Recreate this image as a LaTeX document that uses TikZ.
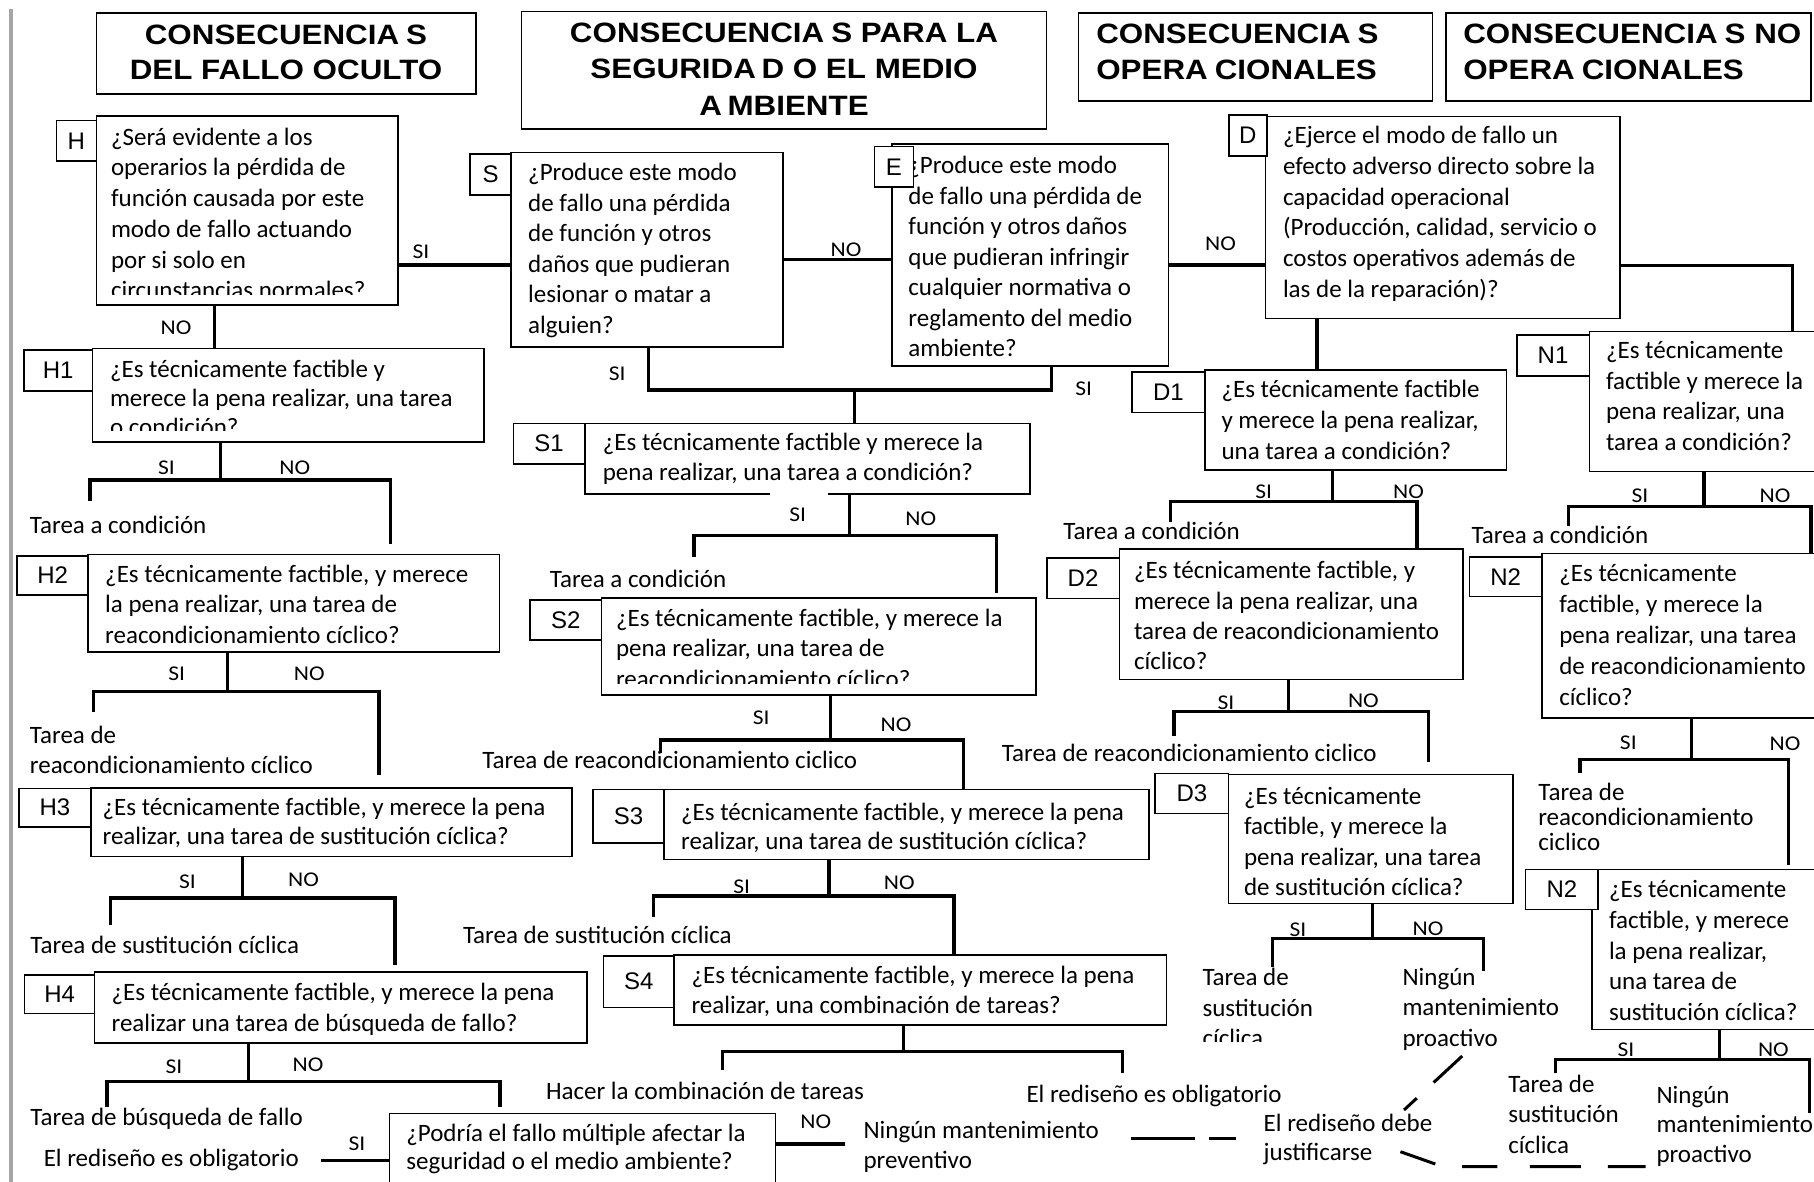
\documentclass[tikz,border=0pt]{standalone}
\usepackage{fontspec}
\setmainfont{Carlito}
\newfontfamily\hdfont[FakeStretch=1.12]{Liberation Sans}
\newfontfamily\lbfont{Liberation Sans}
\newfontfamily\ynfont[FakeStretch=1.12]{Carlito}

% multi-line text block whose anchor is the baseline of its first line
\newcommand\qtext[2]{\parbox[t]{20cm}{\fontsize{25}{#1}\selectfont\raggedright #2}}

\tikzset{
  qbox/.style={draw=black, line width=1.6pt, inner sep=0pt, outer sep=0pt, anchor=north west},
  lbox/.style={draw=black, line width=1.6pt, fill=white, inner sep=0pt, outer sep=0pt,
               anchor=north west, font=\lbfont\fontsize{24}{24}\selectfont},
  tx/.style={inner sep=0pt, outer sep=0pt, anchor=base west},
  yn/.style={inner sep=0pt, font=\ynfont\fontsize{21}{21}\selectfont},
  conn/.style={line width=3.2pt, black},
  dconn/.style={line width=3pt, black},
}

% question / header box: name, x1, y1, x2, y2
\newcommand\qbx[5]{\node[qbox, minimum width={#4-#2}, minimum height={#5-#3}] (#1) at (#2,#3) {};}
% code label box: name, x1, y1, x2, y2, text
\newcommand\lbx[6]{\node[lbox, minimum width={#4-#2}, minimum height={#5-#3}] (#1) at (#2,#3) {#6};}
% text block: name, x, first baseline, line spacing, text
\newcommand\qt[5]{\node[tx] (#1) at (#2,#3) {\qtext{#4}{#5}};}
% SI/NO fork: box, stem x, fork y, left x, left end y, right x, right end y, prefix
\newcommand\mkfork[8]{%
  \coordinate (#8s) at (#2,#3);
  \draw[conn] (#1.south -| #8s) -- (#8s);
  \draw[conn] (#4,#5) -- (#4,#3) -- (#6,#3) -- (#6,#7);
}

\begin{document}
\begin{tikzpicture}[x=1pt,y=-1pt]
\useasboundingbox[fill=white] (0,0) rectangle (1814,1182);
\draw[line width=4pt, black!35] (10.7,9) -- (10.7,1182);

% ---------- column headers ----------
\qbx{hd1}{96.4}{13.3}{475.7}{94.3}
\qbx{hd2}{521.6}{11.7}{1046.4}{129.3}
\qbx{hd3}{1078.3}{13.3}{1432.5}{101}
\qbx{hd4}{1445.7}{13.3}{1811}{101}
\node[inner sep=0pt, anchor=base] (hd1t) at (286,45)
  {\parbox[t]{370pt}{\centering\hdfont\bfseries\fontsize{28}{35}\selectfont
   CONSECUENCIA\kern.25em S\\DEL FALLO OCULTO}};
\node[inner sep=0pt, anchor=base] (hd2t) at (784,42.7)
  {\parbox[t]{520pt}{\centering\hdfont\bfseries\fontsize{28}{36.2}\selectfont
   CONSECUENCIA\kern.25em S PARA LA\\SEGURIDA\kern.2em D O EL MEDIO\\A\kern.2em MBIENTE}};
\node[tx] (hd3t) at (1096.3,43.3)
  {\parbox[t]{340pt}{\hdfont\bfseries\fontsize{28}{36}\selectfont
   CONSECUENCIA\kern.25em S\\OPERA\kern.25em CIONALES}};
\node[tx] (hd4t) at (1463.3,43.3)
  {\parbox[t]{360pt}{\hdfont\bfseries\fontsize{28}{36}\selectfont
   CONSECUENCIA\kern.25em S NO\\OPERA\kern.25em CIONALES}};

% ---------- question boxes ----------
\qbx{Hq}{96.4}{116.3}{398}{305}
\qbx{H1q}{92.6}{348.3}{484}{441.7}
\qbx{H2q}{88}{554.3}{499.4}{651.7}
\qbx{H3q}{90.7}{787.7}{572}{856.5}
\qbx{H4q}{94.6}{971.7}{587}{1042.7}
\qbx{Pq}{389.3}{1113.3}{775.6}{1200}
\qbx{Sq}{511}{152.7}{783.2}{346.7}
\qbx{S1q}{585}{423.3}{1029.8}{494}
\qbx{S2q}{601.6}{597.7}{1035.7}{695}
\qbx{S3q}{664.2}{789.3}{1149}{859.3}
\qbx{S4q}{674}{955}{1166.5}{1025}
\qbx{Eq}{891.8}{144}{1168.4}{365.7}
\qbx{Dq}{1265.4}{116.7}{1620.2}{318.3}
\qbx{D1q}{1205}{370}{1506.6}{470}
\qbx{D2q}{1119.4}{549}{1463.1}{679.3}
\qbx{D3q}{1228.5}{774.5}{1513}{903.5}
\qbx{N1q}{1589.3}{331.5}{1830}{471.4}
\qbx{N2q}{1541.7}{553.3}{1830}{718}
\qbx{N2bq}{1591.7}{869.3}{1830}{1029.3}
% opening in the lower edge of S1
\draw[white, line width=2.4pt] (769.5,494) -- (827.5,494);

% ---------- question texts ----------
\begin{scope}
  \clip (96.4,116.3) rectangle (398,294);
  \qt{Hqt}{111}{145.3}{30.7}{¿Será evidente a los\\operarios la pérdida de\\función causada por este\\modo de fallo actuando\\por si solo en\\circunstancias normales?}
\end{scope}
\begin{scope}
  \clip (92.6,348.3) rectangle (484,430);
  \qt{H1qt}{110}{377}{29.2}{¿Es técnicamente factible y\\merece la pena realizar, una tarea\\o condición?}
\end{scope}
\qt{H2qt}{105.2}{582}{30.8}{¿Es técnicamente factible, y merece\\la pena realizar, una tarea de\\reacondicionamiento cíclico?}
\qt{H3qt}{102.6}{815.3}{29.5}{¿Es técnicamente factible, y merece la pena\\realizar, una tarea de sustitución cíclica?}
\qt{H4qt}{111.6}{1000.3}{30.7}{¿Es técnicamente factible, y merece la pena\\realizar una tarea de búsqueda de fallo?}
\qt{Pqt}{406.3}{1141}{28.7}{¿Podría el fallo múltiple afectar la\\seguridad o el medio ambiente?}
\qt{Sqt}{528.2}{181}{30.5}{¿Produce este modo\\de fallo una pérdida\\de función y otros\\daños que pudieran\\lesionar o matar a\\alguien?}
\qt{S1qt}{602.8}{450.3}{30}{¿Es técnicamente factible y merece la\\pena realizar, una tarea a condición?}
\begin{scope}
  \clip (601.6,597.7) rectangle (1035.7,683);
  \qt{S2qt}{616}{626.3}{30.4}{¿Es técnicamente factible, y merece la\\pena realizar, una tarea de\\reacondicionamiento cíclico?}
\end{scope}
\qt{S3qt}{681.1}{820}{29}{¿Es técnicamente factible, y merece la pena\\realizar, una tarea de sustitución cíclica?}
\qt{S4qt}{691.5}{983.7}{30}{¿Es técnicamente factible, y merece la pena\\realizar, una combinación de tareas?}
\qt{Eqt}{908.4}{173.7}{30.5}{¿Produce este modo\\de fallo una pérdida de\\función y otros daños\\que pudieran infringir\\cualquier normativa o\\reglamento del medio\\ambiente?}
\qt{Dqt}{1283}{143.7}{30.7}{¿Ejerce el modo de fallo un\\efecto adverso directo sobre la\\capacidad operacional\\(Producción, calidad, servicio o\\costos operativos además de\\las de la reparación)?}
\qt{D1qt}{1221.5}{397}{31.3}{¿Es técnicamente factible\\y merece la pena realizar,\\una tarea a condición?}
\qt{D2qt}{1134}{578.7}{30.3}{¿Es técnicamente factible, y\\merece la pena realizar, una\\tarea de reacondicionamiento\\cíclico?}
\qt{D3qt}{1244}{804}{30.5}{¿Es técnicamente\\factible, y merece la\\pena realizar, una tarea\\de sustitución cíclica?}
\qt{N1qt}{1606}{358.7}{30.6}{¿Es técnicamente\\factible y merece la\\pena realizar, una\\tarea a condición?}
\qt{N2qt}{1559.3}{581.8}{30.8}{¿Es técnicamente\\factible, y merece la\\pena realizar, una tarea\\de reacondicionamiento\\cíclico?}
\qt{N2bqt}{1609}{897.7}{30.7}{¿Es técnicamente\\factible, y merece\\la pena realizar,\\una tarea de\\sustitución cíclica?}

% ---------- code labels ----------
\lbx{H}{56.3}{120.7}{96.4}{161.3}{H}
\lbx{H1}{23.7}{350}{92.6}{390.7}{H1}
\lbx{H2}{17.2}{556}{88}{595}{H2}
\lbx{H3}{19.1}{788.3}{90.7}{826.7}{H3}
\lbx{H4}{24.6}{975}{94.6}{1013.3}{H4}
\lbx{S}{470}{154}{511}{195}{S}
\lbx{S1}{513.3}{423.3}{585}{464}{S1}
\lbx{S2}{529.9}{600}{601.6}{640}{S2}
\lbx{S3}{593}{789.3}{664.2}{842.7}{S3}
\lbx{S4}{603.6}{956}{674}{1007.3}{S4}
\lbx{E}{874.4}{146.7}{913.4}{187.3}{E}
\lbx{D}{1228.8}{115}{1266.9}{156}{D}
\lbx{D1}{1131.9}{371.7}{1205}{412.3}{D1}
\lbx{D2}{1046.7}{558}{1119.4}{598.3}{D2}
\lbx{D3}{1155.2}{773.3}{1228.5}{813.3}{D3}
\lbx{N1}{1516.7}{335.2}{1589.3}{375.8}{N1}
\lbx{N2}{1469.6}{557}{1541.7}{596.6}{N2}
\lbx{N2b}{1525.5}{869.3}{1598.2}{909.3}{N2}

% ---------- outcomes ----------
\qt{oH1}{29.9}{533}{30}{Tarea a condición}
\qt{oH2}{29.9}{743.7}{30}{Tarea de\\reacondicionamiento cíclico}
\qt{oH3}{30.4}{953.7}{30}{Tarea de sustitución cíclica}
\qt{oH4}{30.4}{1125.3}{30}{Tarea de búsqueda de fallo}
\qt{oP1}{43.75}{1166.3}{30}{El rediseño es obligatorio}
\qt{oP2}{863.5}{1138.7}{30}{Ningún mantenimiento\\preventivo}
\qt{oS1}{549.8}{587}{30}{Tarea a condición}
\qt{oS2}{482.4}{768.7}{30}{Tarea de reacondicionamiento ciclico}
\qt{oS3}{463}{943.7}{30}{Tarea de sustitución cíclica}
\qt{oS4a}{546}{1099.7}{30}{Hacer la combinación de tareas}
\qt{oS4b}{1026.5}{1102}{30}{El rediseño es obligatorio}
\qt{oD1}{1063.3}{539.7}{30}{Tarea a condición}
\qt{oD2}{1001.9}{761}{30}{Tarea de reacondicionamiento ciclico}
\begin{scope}
  \clip (1190,950) rectangle (1395,1041);
  \qt{oD3a}{1202.5}{985.3}{30.7}{Tarea de\\sustitución\\cíclica}
\end{scope}
\qt{oD3b}{1402.5}{985.3}{30.6}{Ningún\\mantenimiento\\proactivo}
\qt{oR}{1263.7}{1131}{29.3}{El rediseño debe\\justificarse}
\qt{oN1}{1471.7}{543.5}{30}{Tarea a condición}
\qt{oN2}{1538.3}{800.7}{25}{Tarea de\\reacondicionamiento\\ciclico}
\qt{oN3a}{1508.3}{1092}{30.5}{Tarea de\\sustitución\\cíclica}
\qt{oN3b}{1656.5}{1103.7}{29.2}{Ningún\\mantenimiento\\proactivo}

% ---------- connectors ----------
% hidden failure column
\draw[conn] (Hq.east |- 0,265) -- (Sq.west |- 0,265);
\draw[conn] (Hq.south -| 214.3,0) -- (H1q.north -| 214.3,0);
\mkfork{H1q}{220.8}{480}{90}{501}{390.3}{544}{fh1}
\mkfork{H2q}{227.7}{691.7}{93.8}{711.7}{378.9}{775}{fh2}
\mkfork{H3q}{242.4}{898}{110.7}{925}{395}{965}{fh3}
\mkfork{H4q}{248.7}{1081.7}{107}{1106.7}{500}{1107.3}{fh4}
\coordinate (pSI) at (320.5,1160.7);
\draw[conn] (pSI) -- (Pq.west |- pSI);
\coordinate (pNO) at (845,1144);
\draw[conn] (Pq.east |- pNO) -- (pNO);
\coordinate (pd1) at (1131,1138.3);
\coordinate (pd2) at (1236,1138.3);
\draw[dconn, dash pattern=on 64pt off 14pt] (pd1) -- (pd2);

% safety / environment column
\draw[conn] (Sq.east |- 0,259.3) -- (Eq.west |- 0,259.3);
\draw[conn] (Sq.south -| 648.4,0) -- (648.4,390) -- (1051.4,390) -- (Eq.south -| 1051.4,0);
\draw[conn] (854.5,390) -- (S1q.north -| 854.5,0);
\mkfork{S1q}{849.5}{535.7}{694}{556.7}{996.7}{593.3}{fs1}
\mkfork{S2q}{830.4}{740}{660.8}{752.7}{963.3}{789.3}{fs2}
\mkfork{S3q}{829}{896}{653.5}{916.7}{954}{955}{fs3}
\mkfork{S4q}{903.7}{1051.7}{722.6}{1070}{1122.6}{1072.7}{fs4}

% operational column
\draw[conn] (Eq.east |- 0,265) -- (Dq.west |- 0,265);
\draw[conn] (Dq.south -| 1317,0) -- (D1q.north -| 1317,0);
\draw[conn] (Dq.east |- 0,265.7) -- (1792.7,265.7) -- (N1q.north -| 1792.7,0);
\mkfork{D1q}{1332.3}{501.7}{1170.3}{521.7}{1417}{549}{fd1}
\mkfork{D2q}{1288.2}{711.7}{1174}{736}{1428.3}{761.7}{fd2}
\mkfork{D3q}{1372.5}{938.5}{1272.5}{966.7}{1483.5}{971}{fd3}
\coordinate (dd1) at (1462.2,1056);
\coordinate (dd2) at (1404,1110);
\draw[dconn, dash pattern=on 39pt off 23pt] (dd1) -- (dd2);
\coordinate (jd1) at (1400.4,1151.7);
\coordinate (jd2) at (1645.7,1166.7);
\draw[dconn, dash pattern=on 37pt off 27pt on 35.3pt off 32.4pt on 51pt off 27pt on 38pt off 20pt]
  (jd1) -- (1435.3,1164) -- (1462.2,1166.7) -- (jd2);

% non-operational column
\mkfork{N1q}{1704}{506.7}{1568.3}{525.8}{1811}{553.3}{fn1}
\mkfork{N2q}{1691.7}{759.2}{1580}{772.6}{1788.3}{864.5}{fn2}
\mkfork{N2bq}{1719.4}{1059.3}{1555.8}{1073.3}{1809.4}{1113.3}{fn3}

% ---------- SI / NO labels ----------
\node[yn] (y1) at (421,252) {SI};
\node[yn] (y2) at (176,328) {NO};
\node[yn] (y3) at (166.5,467.3) {SI};
\node[yn] (y4) at (294.7,467.3) {NO};
\node[yn] (y5) at (176.8,673.3) {SI};
\node[yn] (y6) at (309.2,673.3) {NO};
\node[yn] (y7) at (187.5,881.7) {SI};
\node[yn] (y8) at (303.6,879.3) {NO};
\node[yn] (y9) at (174,1066.7) {SI};
\node[yn] (y10) at (308,1065) {NO};
\node[yn] (y11) at (357,1143.3) {SI};
\node[yn] (y12) at (815.8,1121.7) {NO};
\node[yn] (y13) at (846,250) {NO};
\node[yn] (y14) at (617.3,374) {SI};
\node[yn] (y15) at (1083.7,388.3) {SI};
\node[yn] (y16) at (797.7,515) {SI};
\node[yn] (y17) at (920.8,518.3) {NO};
\node[yn] (y18) at (761.2,717.3) {SI};
\node[yn] (y19) at (896,725) {NO};
\node[yn] (y20) at (741.7,886.7) {SI};
\node[yn] (y21) at (899.3,882.7) {NO};
\node[yn] (y22) at (1220.6,243.3) {NO};
\node[yn] (y23) at (1263.8,491.7) {SI};
\node[yn] (y24) at (1408.6,491.7) {NO};
\node[yn] (y25) at (1225.9,702.7) {SI};
\node[yn] (y26) at (1363.4,700.7) {NO};
\node[yn] (y27) at (1298,929.5) {SI};
\node[yn] (y28) at (1428,929) {NO};
\node[yn] (y29) at (1640,496) {SI};
\node[yn] (y30) at (1775,496) {NO};
\node[yn] (y31) at (1628.3,743.2) {SI};
\node[yn] (y32) at (1785,744) {NO};
\node[yn] (y33) at (1626,1050) {SI};
\node[yn] (y34) at (1773.4,1050) {NO};
\end{tikzpicture}
\end{document}
